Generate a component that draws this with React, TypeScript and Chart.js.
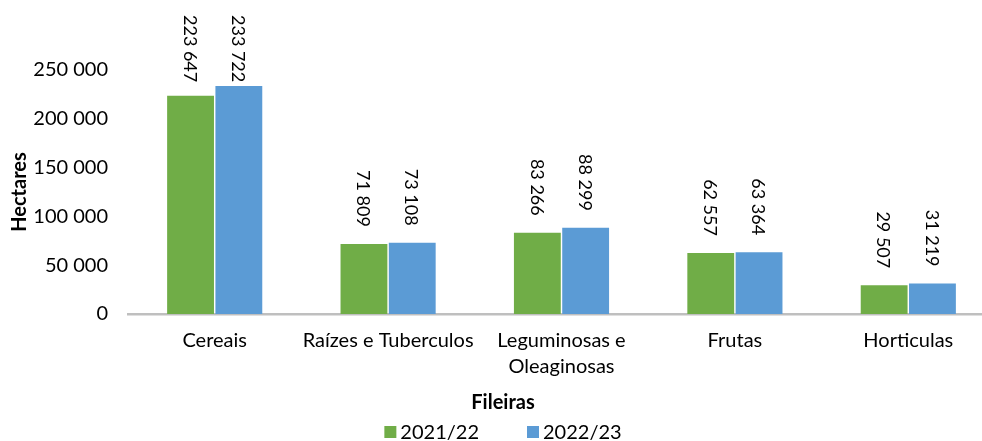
import React, { useEffect, useRef } from 'react';
import { Chart, registerables } from 'chart.js';

Chart.register(...registerables);

const categories: (string | string[])[] = [
  'Cereais',
  'Raízes e Tuberculos',
  ['Leguminosas e', 'Oleaginosas'],
  'Frutas',
  'Horticulas',
];
const seriesNames = ['2021/22', '2022/23'];
const values2122 = [223647, 71809, 83266, 62557, 29507];
const values2223 = [233722, 73108, 88299, 63364, 31219];
const yTickValues = [0, 50000, 100000, 150000, 200000, 250000];
const seriesColors = ['#70AD47', '#5B9BD5'];
const yTitle = 'Hectares';
const xTitle = 'Fileiras';

const FONT = 'Lato, "Open Sans", sans-serif';
const FS = 20;
const LABEL_FS = 18;

const fmt = (v: number) => String(Math.round(v)).replace(/\B(?=(\d{3})+(?!\d))/g, ' ');

const labelPlugin = {
  id: 'rotLabels',
  afterDatasetsDraw(chart: any) {
    const ctx = chart.ctx;
    ctx.save();
    ctx.font = `${LABEL_FS}px ${FONT}`;
    chart.data.datasets.forEach((ds: any, di: number) => {
      const meta = chart.getDatasetMeta(di);
      meta.data.forEach((bar: any, i: number) => {
        const text = fmt(ds.data[i]);
        const w = ctx.measureText(text).width;
        let end = bar.y - 17;
        if (end - w < 15) end = 15 + w;
        ctx.save();
        ctx.translate(bar.x - 1, end);
        ctx.rotate(Math.PI / 2);
        ctx.textAlign = 'right';
        ctx.textBaseline = 'middle';
        ctx.fillStyle = '#000';
        ctx.fillText(text, 0, 0);
        ctx.restore();
      });
    });
    ctx.restore();
  },
};

// x-axis title and legend, drawn below the category labels
const bottomPlugin = {
  id: 'bottomLegend',
  afterDraw(chart: any) {
    const ctx = chart.ctx;
    const cx = 503;
    ctx.save();
    ctx.fillStyle = '#000';
    ctx.textBaseline = 'middle';
    ctx.textAlign = 'center';
    ctx.font = `bold ${FS}px ${FONT}`;
    ctx.fillText(xTitle, cx, 403);
    ctx.font = `${FS}px ${FONT}`;
    ctx.textAlign = 'left';
    const box = 12;
    const gap = 4;
    const itemGap = 48;
    const ds = chart.data.datasets;
    const widths = ds.map((d: any) => ctx.measureText(d.label).width);
    let total = 0;
    widths.forEach((w: number, i: number) => {
      total += box + gap + w + (i < widths.length - 1 ? itemGap : 0);
    });
    let x = cx - total / 2;
    const y = 432;
    ds.forEach((d: any, i: number) => {
      ctx.fillStyle = d.backgroundColor;
      ctx.fillRect(x, y - box / 2, box, box);
      ctx.fillStyle = '#000';
      ctx.fillText(d.label, x + box + gap, y + 1);
      x += box + gap + widths[i] + itemGap;
    });
    ctx.restore();
  },
};

export default function App() {
  const ref = useRef<HTMLCanvasElement>(null);
  useEffect(() => {
    if (!ref.current) return;
    const chart = new Chart(ref.current, {
      type: 'bar',
      data: {
        labels: categories as any,
        datasets: [
          {
            label: seriesNames[0],
            data: values2122,
            backgroundColor: seriesColors[0],
            categoryPercentage: 0.557,
            barPercentage: 0.97,
          },
          {
            label: seriesNames[1],
            data: values2223,
            backgroundColor: seriesColors[1],
            categoryPercentage: 0.557,
            barPercentage: 0.97,
          },
        ],
      },
      options: {
        responsive: true,
        maintainAspectRatio: false,
        animation: false,
        layout: { padding: { top: 70, left: 0, right: 3, bottom: 47 } },
        plugins: {
          title: { display: false },
          tooltip: { enabled: false },
          legend: { display: false },
        },
        scales: {
          x: {
            grid: { display: false, drawTicks: false },
            border: { display: true, color: '#BFBFBF', width: 2.5 },
            ticks: {
              color: '#000',
              padding: 14,
              font: { family: FONT, size: FS, lineHeight: 1.3 },
              maxRotation: 0,
              autoSkip: false,
            },
          },
          y: {
            min: 0,
            max: 250000,
            afterBuildTicks: (axis: any) => {
              axis.ticks = yTickValues.map((v) => ({ value: v }));
            },
            afterFit: (axis: any) => {
              axis.width = 128;
            },
            grid: { display: false, drawTicks: false },
            border: { display: false },
            ticks: {
              color: '#000',
              padding: 20,
              font: { family: FONT, size: FS },
              callback: (v: any) => fmt(Number(v)),
            },
            title: {
              display: true,
              text: yTitle,
              color: '#000',
              font: { family: FONT, size: FS, weight: 'bold' },
              padding: { top: 8, bottom: 8 },
            },
          },
        },
      },
      plugins: [labelPlugin, bottomPlugin],
    });
    return () => chart.destroy();
  }, []);

  return (
    <div style={{ position: 'absolute', left: 0, top: 0, width: 982, height: 441, overflow: 'hidden', background: '#fff' }}>
      <div style={{ position: 'relative', width: 998, height: 441 }}>
        <canvas ref={ref} />
      </div>
    </div>
  );
}
